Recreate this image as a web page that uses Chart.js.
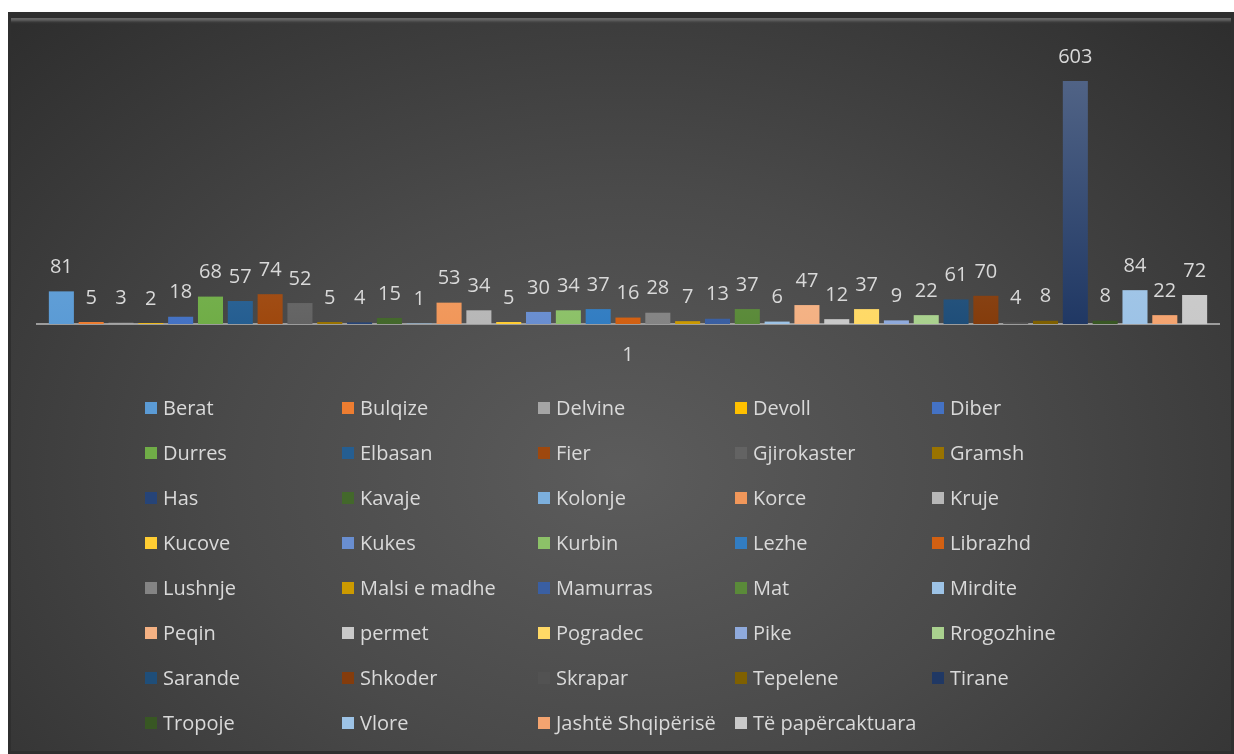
<!DOCTYPE html>
<html>
<head>
<meta charset="utf-8">
<script src="https://cdn.jsdelivr.net/npm/chart.js@4/dist/chart.umd.min.js"></script>
<style>
  html, body { margin: 0; padding: 0; background: #fff; }
  .frame {
    position: absolute; left: 8px; top: 12px; width: 1226px; height: 742px;
    background: radial-gradient(ellipse 70% 85% at 50% 62%, #5c5c5c 0%, #4a4a4a 45%, #2e2e2e 100%);
    box-shadow: inset 0 0 0 3px #2f2f2f, inset 0 9px 0 -3px #2f2f2f, inset 0 12px 3px -3px #6a6a6a;
  }
  #chart { position: absolute; left: 0; top: 0; }
</style>
</head>
<body>
<div class="frame">
  <canvas id="chart" width="1226" height="742"></canvas>
</div>
<script>
const ctx = document.getElementById('chart');

const categories = ['1'];
const districts = ['Berat', 'Bulqize', 'Delvine', 'Devoll', 'Diber', 'Durres', 'Elbasan', 'Fier',
    'Gjirokaster', 'Gramsh', 'Has', 'Kavaje', 'Kolonje', 'Korce', 'Kruje', 'Kucove', 'Kukes',
    'Kurbin', 'Lezhe', 'Librazhd', 'Lushnje', 'Malsi e madhe', 'Mamurras', 'Mat', 'Mirdite',
    'Peqin', 'permet', 'Pogradec', 'Pike', 'Rrogozhine', 'Sarande', 'Shkoder', 'Skrapar',
    'Tepelene', 'Tirane', 'Tropoje', 'Vlore', 'Jashtë Shqipërisë', 'Të papërcaktuara'];
const counts = [81, 5, 3, 2, 18, 68, 57, 74, 52, 5, 4, 15, 1, 53, 34, 5, 30, 34, 37, 16, 28, 7,
    13, 37, 6, 47, 12, 37, 9, 22, 61, 70, 4, 8, 603, 8, 84, 22, 72];

// office palette, series order
const palette = ['#5B9BD5', '#ED7D31', '#A5A5A5', '#FFC000', '#4472C4', '#70AD47',
    '#255E91', '#9E480E', '#636363', '#997300', '#264478', '#43682B',
    '#7CAFDD', '#F1975A', '#B7B7B7', '#FFCD33', '#698ED0', '#8CC168',
    '#327DC2', '#D26012', '#848484', '#CC9A00', '#3A5FA2', '#5A8A39',
    '#9DC3E6', '#F4B183', '#C9C9C9', '#FFD966', '#8FAADC', '#A9D18E',
    '#1F4E79', '#843C0C', '#525252', '#7F6000', '#203864', '#385723',
    '#9DC3E6', '#F4A470', '#C9C9C9'];

const textColor = '#d9d9d9';
const fontFamily = '"Open Sans", sans-serif';

function lighten(hex, amt) {
    const n = parseInt(hex.slice(1), 16);
    const r = (n >> 16) & 255, g = (n >> 8) & 255, b = n & 255;
    const f = c => Math.round(c + (255 - c) * amt);
    return 'rgb(' + f(r) + ',' + f(g) + ',' + f(b) + ')';
}

function barFill(color) {
    return function(context) {
        const area = context.chart.chartArea;
        if (!area) return color;
        const g = context.chart.ctx.createLinearGradient(0, area.top, 0, area.bottom);
        g.addColorStop(0, lighten(color, 0.25));
        g.addColorStop(1, color);
        return g;
    };
}

// value labels above each bar
const valueLabels = {
    id: 'valueLabels',
    afterDatasetsDraw(chart) {
        const c = chart.ctx;
        c.save();
        c.font = '20px ' + fontFamily;
        c.fillStyle = textColor;
        c.textAlign = 'center';
        c.textBaseline = 'middle';
        chart.data.datasets.forEach((ds, i) => {
            const bar = chart.getDatasetMeta(i).data[0];
            c.fillText(String(ds.data[0]), bar.x, bar.y - 24);
        });
        c.restore();
    }
};

// legend in a 5 column grid like the excel one
const gridLegend = {
    id: 'gridLegend',
    afterDraw(chart) {
        const c = chart.ctx;
        const colX = [137, 334, 530, 727, 924];
        c.save();
        c.font = '20px ' + fontFamily;
        c.textBaseline = 'middle';
        c.textAlign = 'left';
        chart.data.datasets.forEach((ds, i) => {
            const x = colX[i % 5];
            const y = 396 + Math.floor(i / 5) * 45;
            c.fillStyle = palette[i];
            c.fillRect(x, y - 6, 12, 12);
            c.fillStyle = textColor;
            c.fillText(ds.label, x + 18, y + 1);
        });
        c.restore();
    }
};

new Chart(ctx, {
    type: 'bar',
    data: {
        labels: categories,
        datasets: districts.map((name, i) => ({
            label: name,
            data: [counts[i]],
            backgroundColor: barFill(palette[i]),
            borderWidth: 0,
            categoryPercentage: 0.984,
            barPercentage: 0.84
        }))
    },
    options: {
        responsive: false,
        maintainAspectRatio: false,
        animation: false,
        layout: {
            padding: { left: 29, right: 15, top: 30, bottom: 0 }
        },
        plugins: {
            legend: { display: false },
            tooltip: { enabled: false }
        },
        scales: {
            x: {
                grid: { display: false, drawTicks: false },
                border: { display: true, color: '#9c9c9c', width: 2 },
                ticks: {
                    color: textColor,
                    padding: 19,
                    font: { size: 20, family: fontFamily }
                },
                afterFit: s => { s.height = 430; }
            },
            y: {
                display: false,
                min: 0,
                max: 700
            }
        }
    },
    plugins: [valueLabels, gridLegend]
});
</script>
</body>
</html>
